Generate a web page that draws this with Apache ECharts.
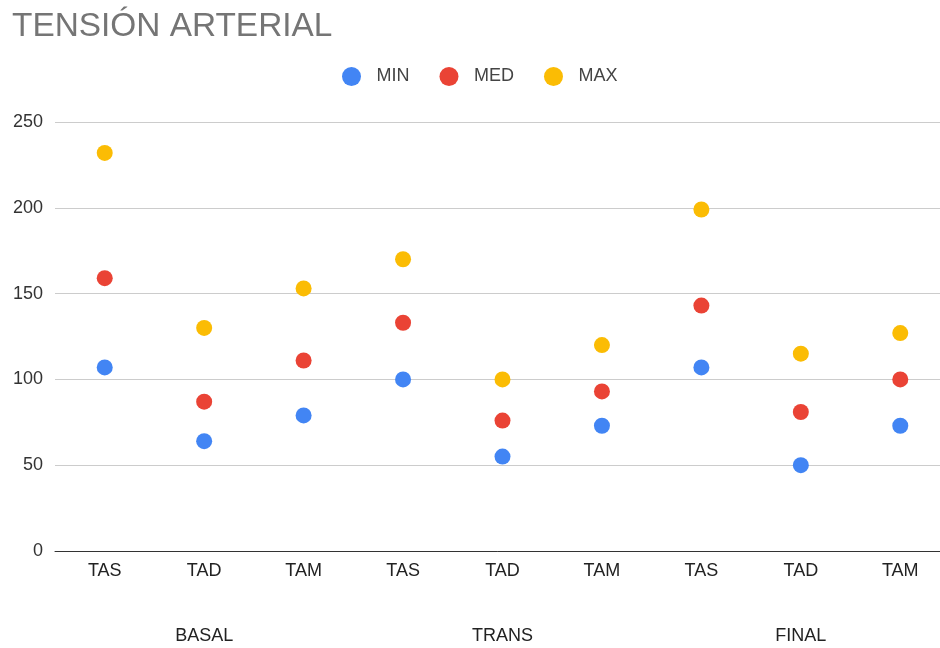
<!DOCTYPE html>
<html><head><meta charset="utf-8">
<script src="https://cdn.jsdelivr.net/npm/echarts@6/dist/echarts.min.js"></script>
<style>html,body{margin:0;padding:0;background:#fff;overflow:hidden}#c{width:940px;height:648px}</style>
</head><body><div id="c"></div>
<script>
const categories = ['TAS','TAD','TAM','TAS','TAD','TAM','TAS','TAD','TAM'];
const groups = ['BASAL','TRANS','FINAL'];
const minValues = [107, 64, 79, 100, 55, 73, 107, 50, 73];
const medValues = [159, 87, 111, 133, 76, 93, 143, 81, 100];
const maxValues = [232, 130, 153, 170, 100, 120, 199, 115, 127];
const yTicks = [0, 50, 100, 150, 200, 250];

const font = 'Liberation Sans, Arial, sans-serif';
const chart = echarts.init(document.getElementById('c'));
chart.setOption({
  animation: false,
  textStyle: {fontFamily: font},
  title: {text: 'TENSIÓN ARTERIAL', left: 7, top: 5,
    textStyle: {fontFamily: font, fontSize: 33.4, fontWeight: 'normal', color: '#757575'}},
  legend: {top: 62, left: 337, itemWidth: 40, itemHeight: 19, itemGap: 30, icon: 'circle',
    textStyle: {fontFamily: font, fontSize: 18, color: '#444'},
    data: ['MIN','MED','MAX']},
  grid: {left: 55, width: 895, top: 122, bottom: 97, containLabel: false, outerBoundsMode: 'none'},
  xAxis: [{
    type: 'category', data: categories, boundaryGap: true,
    axisLine: {lineStyle: {color: '#333', width: 1}},
    axisTick: {show: false},
    axisLabel: {fontFamily: font, fontSize: 18, color: '#222', margin: 11, interval: 0}
  }, {
    type: 'category', data: groups, position: 'bottom', offset: 65, boundaryGap: true,
    axisLine: {show: false}, axisTick: {show: false}, splitLine: {show: false},
    axisLabel: {fontFamily: font, fontSize: 18, color: '#222', margin: 11, interval: 0}
  }],
  yAxis: {
    type: 'value', min: yTicks[0], max: yTicks[yTicks.length-1], interval: 50,
    axisLine: {show: false}, axisTick: {show: false},
    splitLine: {lineStyle: {color: '#ccc'}},
    axisLabel: {fontFamily: font, fontSize: 18, color: '#333', margin: 12}
  },
  series: [
    {name: 'MIN', type: 'scatter', data: minValues, symbolSize: 16, itemStyle: {color: '#4285F4', opacity: 1}},
    {name: 'MED', type: 'scatter', data: medValues, symbolSize: 16, itemStyle: {color: '#EA4335', opacity: 1}},
    {name: 'MAX', type: 'scatter', data: maxValues, symbolSize: 16, itemStyle: {color: '#FBBC04', opacity: 1}}
  ]
});
</script></body></html>
